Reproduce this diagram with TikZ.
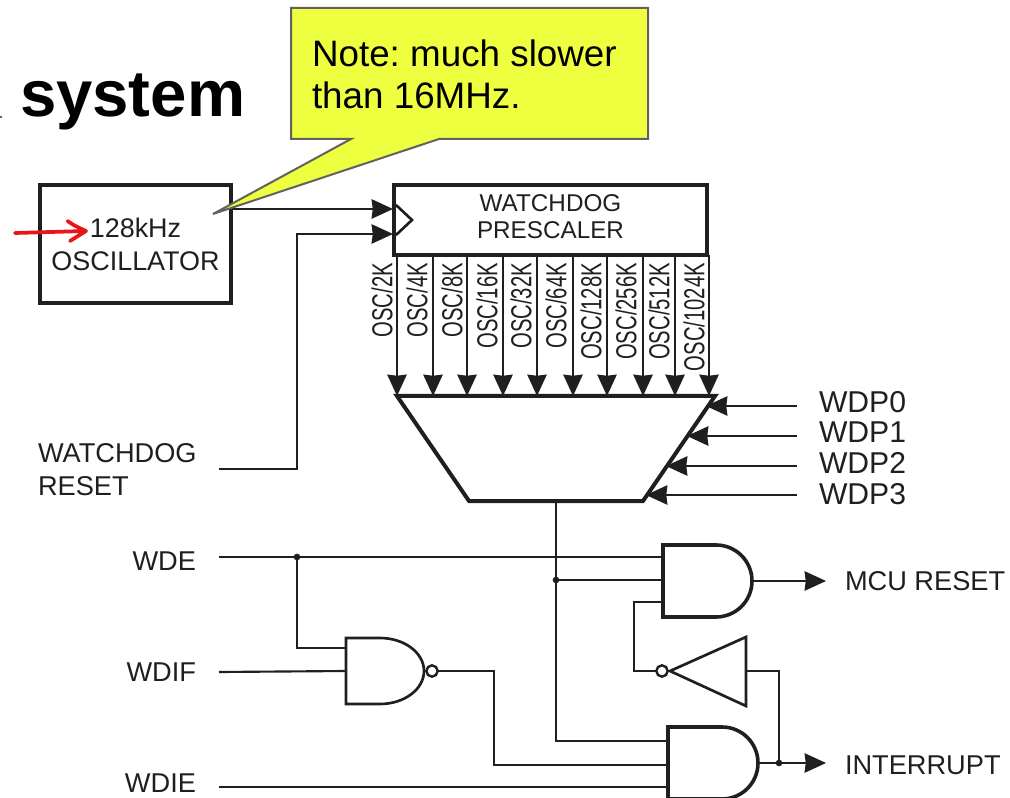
\documentclass[tikz,border=0pt]{standalone}
\usepackage{fontspec}
\usepackage{graphicx}
\setmainfont{Liberation Sans}
\usetikzlibrary{arrows.meta,shapes}
\definecolor{myblack}{gray}{.12}
\definecolor{noteyellow}{RGB}{238,255,64}
\definecolor{notegray}{gray}{.38}
\definecolor{myred}{RGB}{232,20,24}
\newcommand{\fsz}[1]{\fontsize{#1}{#1}\selectfont}

\begin{document}
\frenchspacing
\begin{tikzpicture}[x=0.75pt, y=-0.75pt]
	  \tikzstyle{every node} = [inner sep=0pt, outer sep=0pt, text=myblack]
	  \tikzstyle{wire} = [draw=myblack, line width=1.6pt]
	  \tikzstyle{arrowwire} = [wire, -{Stealth[length=16pt, width=14.5pt, inset=.8pt]}]
	  \tikzstyle{heavy} = [draw=myblack, line width=3pt]
	  \tikzstyle{gate} = [draw=myblack, line width=2pt, line join=miter]
	  \tikzstyle{andgate} = [draw=myblack, line width=2.7pt, line join=miter]
	  \tikzstyle{dot} = [circle, fill=myblack, minimum size=5pt]
	  \tikzstyle{bubble} = [circle, draw=myblack, fill=white, line width=1.8pt, minimum size=8.5pt]
	  \tikzstyle{sig} = [font=\fsz{20.4}]
	  \useasboundingbox (0,0) rectangle (1010,798);
	  % boxes
	  \node (osc)[heavy, minimum width=143.25pt, minimum height=88.5pt, align=center, font=\fontsize{20.2}{24.75}\selectfont] at (135.5,244) {128kHz\\OSCILLATOR};
	  \node (prescaler)[heavy, minimum width=234.75pt, minimum height=52.5pt] at (550.5,220) {};
	  \node (prescalertext)[align=center, font=\fontsize{18.2}{20.25}\selectfont] at (550.5,216.5) {WATCHDOG\\PRESCALER};
	  \draw [gate] (396,205) -- (412,220) -- (396,235);
	  % mux
	  \coordinate (muxtl) at (397,396);
	  \coordinate (muxtr) at (715,396);
	  \coordinate (muxbr) at (643,501);
	  \coordinate (muxbl) at (469,501);
	  \coordinate (muxout) at (556,501);
	  \draw [heavy, line join=miter] (muxtl) -- (muxtr) -- (muxbr) -- (muxbl) -- cycle;
	  \foreach \x/\lx/\div in {397/382/2K, 433/417/4K, 467/452/8K, 503/487/16K, 537/521/32K, 573/556/64K, 607/591/128K, 643/626/256K, 675/659/512K, 709/694/1024K} {
	    \draw [arrowwire] (\x,0 |- prescaler.south) -- (\x,0 |- muxtl);
	    \node (osc\div)[rotate=90, anchor=east, font=\fsz{21.7}] at (\lx,263) {\scalebox{.7}[1]{OSC/\div}};
	  }
	  \foreach \i/\y/\lab/\tip in {0/406/402/706, 1/436/432/687, 2/466/463/666, 3/495/494/646} {
	    \node (wdp\i)[anchor=west, font=\fsz{22.6}] at (819,\lab) {WDP\i};
	    \coordinate (wdpin\i) at (797,\y);
	    \coordinate (wdptip\i) at (\tip,\y);
	    \draw [arrowwire] (wdpin\i) -- (wdptip\i);
	  }
	  % left labels
	  \node (wdreset)[anchor=west, align=left, font=\fontsize{20.4}{24.75}\selectfont] at (38,470) {WATCHDOG\\RESET};
	  \node (wde)[sig, anchor=east] at (196,561) {WDE};
	  \node (wdif)[sig, anchor=east] at (196,672) {WDIF};
	  \node (wdie)[sig, anchor=east] at (196,783) {WDIE};
	  \node (mcureset)[sig, anchor=west] at (845,581) {MCU RESET};
	  \node (interrupt)[sig, anchor=west] at (845,765) {INTERRUPT};
	  % gates
	  \draw [andgate] (663,545) -- (716,545) arc[start angle=90, end angle=-90, radius=27pt] -- (663,617) -- cycle;
	  \draw [andgate] (668,727) -- (722,727) arc[start angle=90, end angle=-90, radius=27pt] -- (668,799) -- cycle;
	  \draw [gate] (346,638) -- (380,638) arc[start angle=90, end angle=-90, x radius=33pt, y radius=24.75pt] -- (346,704) -- cycle;
	  \draw [gate] (670,671) -- (746,637) -- (746,706) -- cycle;
	  \node (nandout)[bubble] at (432,671) {};
	  \node (notout)[bubble] at (662,671) {};
	  % junctions
	  \node (wdejoin)[dot] at (297,557) {};
	  \node (muxjoin)[dot] at (556,580) {};
	  \node (intjoin)[dot] at (779,763) {};
	  % wires
	  \coordinate (ckin) at (393,209);
	  \coordinate (rstin) at (393,234);
	  \coordinate (rststart) at (219,469);
	  \coordinate (wdestart) at (219,557);
	  \coordinate (wdifstart) at (219,672);
	  \coordinate (wdiestart) at (219,787);
	  \coordinate (and1a) at (663,557);
	  \coordinate (and1b) at (663,580);
	  \coordinate (and1c) at (663,602);
	  \coordinate (and1out) at (752,581);
	  \coordinate (and2a) at (668,741);
	  \coordinate (and2b) at (668,765);
	  \coordinate (and2c) at (668,787);
	  \coordinate (and2out) at (758,763);
	  \coordinate (nanda) at (346,648);
	  \coordinate (nandb) at (346,671);
	  \coordinate (notin) at (746,671);
	  \coordinate (mcutip) at (826,581);
	  \coordinate (inttip) at (826,763);
	  \draw [arrowwire] (ckin -| osc.east) -- (ckin);
	  \draw [arrowwire] (rststart) -| (297,0 |- rstin) -- (rstin);
	  \draw [wire] (wdestart) -- (and1a);
	  \draw [wire] (wdejoin) |- (nanda);
	  \draw [wire] (wdifstart) -- (nandb);
	  \draw [wire] (wdiestart) -- (and2c);
	  \draw [wire] (muxout) |- (and2a);
	  \draw [wire] (muxjoin) -- (and1b);
	  \draw [wire] (and1c) -| (634,0 |- notout) -- (notout);
	  \draw [wire] (nandout) -| (494,0 |- and2b) -- (and2b);
	  \draw [wire] (notin) -| (intjoin);
	  \draw [arrowwire] (and1out) -- (mcutip);
	  \draw [arrowwire] (and2out) -- (inttip);
	  % heading and note
	  \node (heading)[anchor=base west, font=\bfseries\fsz{49}, text=black] at (20,117) {system};
	  \draw [notegray, line width=.8pt] (0,117) -- (1.5,117);
	  \draw [fill=noteyellow, draw=notegray, line width=1.5pt, line join=miter] (291,8) -- (648,8) -- (648,139) -- (439,139) -- (213,214) -- (351,139) -- (291,139) -- cycle;
	  \node (note1)[anchor=base west, font=\fsz{27.6}, text=black] at (312,67) {Note: much slower};
	  \node (note2)[anchor=base west, font=\fsz{27.6}, text=black] at (312,109) {than 16MHz.};
	  % red mark
	  \coordinate (redstart) at (15,233);
	  \coordinate (redtip) at (86,231);
	  \draw [myred, line width=2.8pt, line cap=round, line join=round] (redstart) -- (redtip) (67.5,221) .. controls (75,226) .. (redtip) .. controls (78,236) .. (70,241);
\end{tikzpicture}
\end{document}
